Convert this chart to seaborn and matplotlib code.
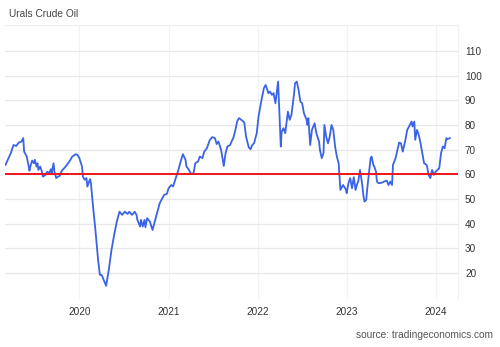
import numpy as np
import pandas as pd
import matplotlib
matplotlib.use("Agg")
import matplotlib.pyplot as plt
import matplotlib.dates as mdates
import seaborn as sns

# Dates as decimal years, prices in USD/bbl
years = [
    2019.17, 2019.20, 2019.23, 2019.26, 2019.29, 2019.32, 2019.35, 2019.37, 2019.38, 2019.41,
    2019.44, 2019.45, 2019.47, 2019.49, 2019.50, 2019.52, 2019.53, 2019.54, 2019.56, 2019.58,
    2019.59, 2019.62, 2019.64, 2019.66, 2019.68, 2019.69, 2019.71, 2019.72, 2019.74, 2019.76,
    2019.78, 2019.79, 2019.81, 2019.83, 2019.86, 2019.90, 2019.92, 2019.96, 2019.98, 2020.00,
    2020.03, 2020.04, 2020.06, 2020.08, 2020.09, 2020.12, 2020.13, 2020.15, 2020.18, 2020.21,
    2020.23, 2020.25, 2020.28, 2020.30, 2020.33, 2020.36, 2020.39, 2020.42, 2020.44, 2020.45,
    2020.48, 2020.51, 2020.54, 2020.56, 2020.59, 2020.62, 2020.64, 2020.65, 2020.68, 2020.69,
    2020.71, 2020.73, 2020.74, 2020.76, 2020.79, 2020.82, 2020.84, 2020.87, 2020.90, 2020.93,
    2020.95, 2020.98, 2021.00, 2021.03, 2021.05, 2021.08, 2021.11, 2021.13, 2021.16, 2021.19,
    2021.20, 2021.23, 2021.25, 2021.28, 2021.30, 2021.33, 2021.35, 2021.38, 2021.40, 2021.43,
    2021.46, 2021.49, 2021.52, 2021.54, 2021.56, 2021.59, 2021.62, 2021.64, 2021.66, 2021.69,
    2021.73, 2021.75, 2021.77, 2021.79, 2021.81, 2021.84, 2021.85, 2021.87, 2021.90, 2021.92,
    2021.94, 2021.96, 2021.99, 2022.01, 2022.04, 2022.07, 2022.09, 2022.11, 2022.12, 2022.14,
    2022.16, 2022.18, 2022.20, 2022.23, 2022.24, 2022.26, 2022.27, 2022.29, 2022.31, 2022.34,
    2022.36, 2022.38, 2022.41, 2022.42, 2022.44, 2022.46, 2022.48, 2022.50, 2022.52, 2022.55,
    2022.56, 2022.57, 2022.59, 2022.61, 2022.64, 2022.66, 2022.69, 2022.70, 2022.72, 2022.74,
    2022.75, 2022.77, 2022.79, 2022.81, 2022.83, 2022.85, 2022.87, 2022.89, 2022.91, 2022.93,
    2022.95, 2022.96, 2022.99, 2023.00, 2023.02, 2023.04, 2023.06, 2023.08, 2023.10, 2023.12,
    2023.13, 2023.15, 2023.17, 2023.19, 2023.20, 2023.22, 2023.23, 2023.25, 2023.27, 2023.28,
    2023.30, 2023.31, 2023.33, 2023.34, 2023.36, 2023.40, 2023.42, 2023.45, 2023.47, 2023.49,
    2023.51, 2023.52, 2023.55, 2023.57, 2023.59, 2023.61, 2023.63, 2023.66, 2023.68, 2023.71,
    2023.73, 2023.74, 2023.76, 2023.77, 2023.79, 2023.81, 2023.83, 2023.85, 2023.87, 2023.90,
    2023.92, 2023.94, 2023.96, 2023.98, 2024.00, 2024.02, 2024.04, 2024.06, 2024.08, 2024.10,
    2024.12, 2024.13, 2024.16,
]
prices = [
    63.8, 66.2, 68.6, 71.9, 71.5, 72.9, 73.3, 74.7, 69.2, 67.2,
    61.5, 63.2, 65.6, 64.5, 65.9, 63.2, 64.5, 61.8, 63.2, 61.1,
    59.1, 59.8, 61.1, 60.5, 62.1, 60.5, 64.5, 61.1, 58.5, 59.1,
    59.4, 60.5, 61.8, 62.5, 63.8, 65.9, 67.2, 68.2, 67.9, 66.6,
    63.2, 59.1, 57.8, 58.5, 55.1, 58.1, 56.4, 48.3, 37.5, 25.4,
    19.3, 19.3, 16.6, 14.9, 21.3, 29.4, 35.5, 40.9, 43.6, 44.9,
    43.6, 44.9, 44.0, 44.9, 43.6, 44.9, 43.6, 41.6, 38.9, 41.6,
    38.9, 41.6, 38.6, 42.3, 40.9, 37.5, 40.2, 44.3, 48.3, 50.4,
    51.7, 52.1, 54.4, 55.7, 55.1, 58.5, 61.8, 64.5, 68.2, 65.9,
    63.2, 61.8, 60.2, 60.5, 64.5, 65.2, 67.2, 66.6, 69.2, 70.6,
    73.7, 75.1, 74.7, 72.3, 73.3, 69.9, 63.4, 68.6, 71.3, 71.9,
    75.1, 78.0, 81.4, 82.8, 82.3, 81.4, 81.0, 75.3, 71.0, 70.2,
    71.9, 72.6, 76.7, 83.4, 89.5, 94.9, 96.2, 94.2, 92.9, 93.5,
    92.2, 92.9, 88.8, 97.6, 88.8, 71.3, 77.3, 78.7, 76.7, 85.4,
    82.1, 84.1, 92.9, 96.9, 97.6, 94.2, 89.5, 88.8, 84.8, 82.1,
    80.0, 82.8, 71.9, 78.0, 80.7, 76.7, 73.3, 69.9, 66.6, 68.6,
    80.0, 75.3, 72.6, 75.3, 80.0, 78.0, 71.3, 67.2, 64.5, 53.7,
    55.1, 55.7, 54.0, 52.4, 56.4, 58.5, 54.4, 58.9, 53.7, 56.4,
    57.1, 61.8, 57.1, 51.0, 49.0, 49.7, 53.7, 60.5, 66.6, 67.2,
    63.8, 63.2, 61.1, 57.1, 56.4, 56.7, 57.1, 57.5, 55.7, 57.1,
    55.7, 63.8, 66.6, 69.9, 72.9, 72.6, 69.2, 74.0, 78.0, 80.0,
    81.4, 79.4, 81.4, 74.0, 78.0, 76.0, 72.6, 68.6, 64.5, 63.8,
    59.8, 58.5, 61.8, 59.8, 61.1, 61.8, 62.5, 68.6, 71.3, 70.6,
    74.7, 74.3, 74.7,
]
price_cap = 60
y_ticks = [20, 30, 40, 50, 60, 70, 80, 90, 100, 110]
x_tick_years = [2020, 2021, 2022, 2023, 2024]
title = "Urals Crude Oil"
source = "source: tradingeconomics.com"


def to_date(y):
    yi = int(np.floor(y))
    start = pd.Timestamp(yi, 1, 1)
    end = pd.Timestamp(yi + 1, 1, 1)
    return start + (end - start) * (y - yi)


df = pd.DataFrame({"date": [to_date(y) for y in years], "price": prices})

sns.set_style("white")
plt.rcParams["font.family"] = ["Liberation Sans", "DejaVu Sans"]

fig = plt.figure(figsize=(5.0, 3.47), dpi=100)
ax = fig.add_axes([0.01, 0.138, 0.906, 0.79])

sns.lineplot(data=df, x="date", y="price", ax=ax, color="#3a63e6", linewidth=1.3)
ax.axhline(price_cap, color="#f0141e", linewidth=1.4, zorder=3)

ax.set_xlim(to_date(2019.165), to_date(2024.25))
ax.set_ylim(9.5, 120.5)

ax.yaxis.tick_right()
ax.set_yticks(y_ticks)
ax.set_xticks([pd.Timestamp(y, 1, 1) for y in x_tick_years])
ax.xaxis.set_major_formatter(mdates.DateFormatter("%Y"))
ax.tick_params(axis="both", length=0, labelsize=7.2, colors="#333333")
ax.tick_params(axis="y", pad=5)
ax.tick_params(axis="x", pad=6)

ax.grid(axis="y", color="#e8e8e8", linewidth=0.9)
ax.grid(axis="x", color="#f2f2f2", linewidth=0.9)
ax.set_axisbelow(True)

ax.set_xlabel("")
ax.set_ylabel("")
for side in ["left", "bottom"]:
    ax.spines[side].set_visible(False)
for side in ["top", "right"]:
    ax.spines[side].set_color("#f0f0f0")
    ax.spines[side].set_linewidth(0.9)

fig.text(0.018, 0.96, title, fontsize=7.3, color="#444444", ha="left", va="center")
fig.text(0.986, 0.034, source, fontsize=7.3, color="#555555", ha="right", va="center")

fig.savefig("out.png", dpi=100, facecolor="white")
